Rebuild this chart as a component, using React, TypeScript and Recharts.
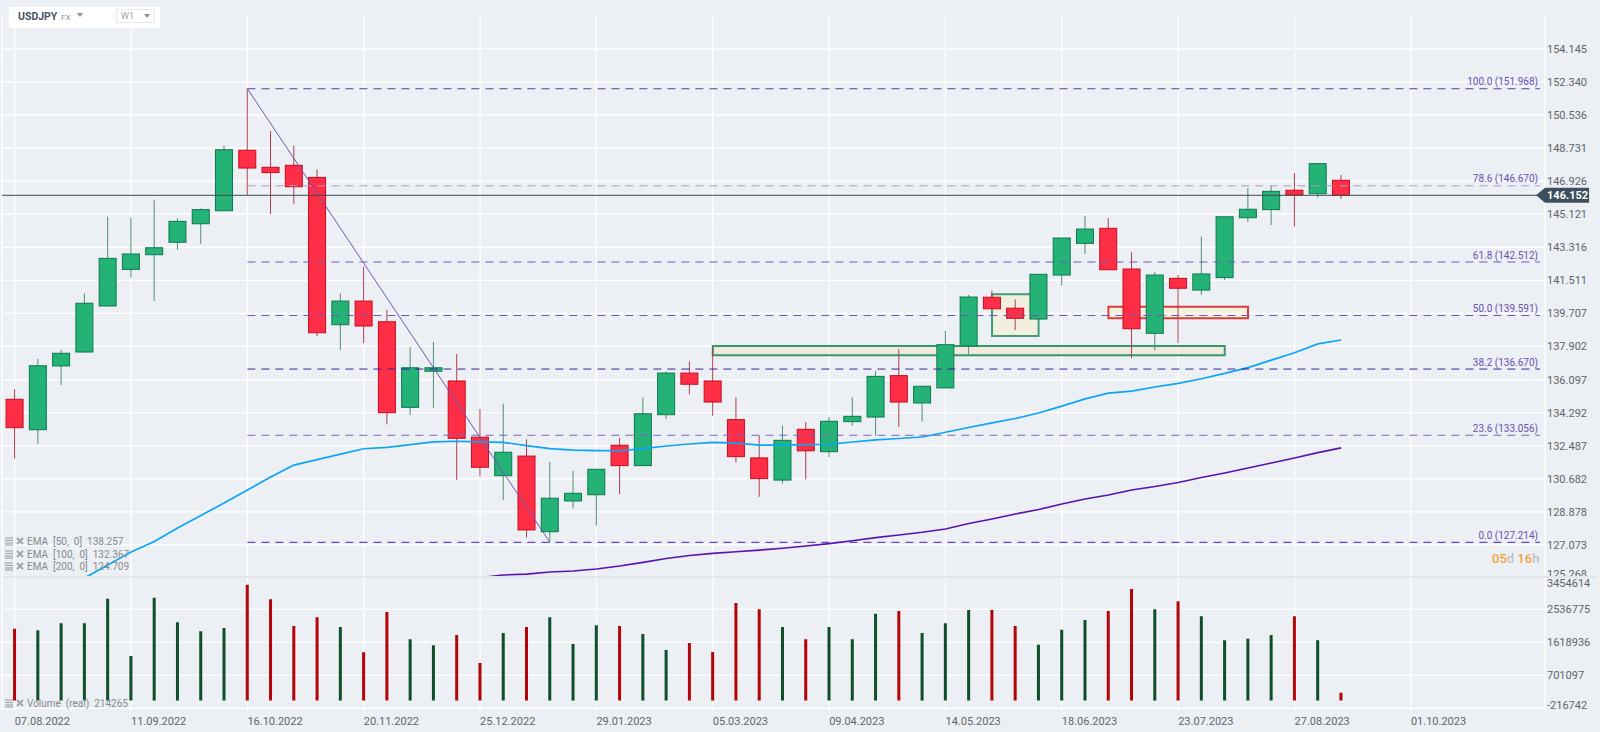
import React from "react";
import {
  Bar,
  BarChart,
  CartesianGrid,
  Cell,
  ComposedChart,
  Line,
  ReferenceArea,
  ReferenceDot,
  ReferenceLine,
  XAxis,
  YAxis,
} from "recharts";

const opens = [
  135.02, 133.36, 136.84, 137.6, 140.11, 142.11, 142.91, 143.59, 144.6, 145.31,
  148.61, 147.68, 147.79, 147.13, 139.09, 140.38, 139.25, 134.58, 136.55, 136.02,
  132.95, 130.85, 131.92, 127.79, 129.47, 129.81, 132.51, 131.4, 134.18, 136.45,
  136.02, 133.91, 131.82, 130.61, 133.38, 132.16, 133.8, 134.05, 136.31, 134.82,
  135.64, 137.93, 140.59, 139.99, 139.4, 141.8, 143.53, 144.35, 142.13, 138.62,
  141.62, 140.98, 141.66, 144.93, 145.37, 146.43, 146.24, 146.97,
];
const closes = [
  133.47, 136.85, 137.53, 140.26, 142.71, 142.95, 143.29, 144.73, 145.37, 148.64,
  147.64, 147.39, 146.62, 138.65, 140.38, 139.02, 134.29, 136.74, 136.74, 132.89,
  131.31, 132.13, 127.89, 129.62, 129.89, 131.2, 131.4, 134.23, 136.45, 135.84,
  134.87, 131.89, 130.69, 132.78, 132.21, 133.82, 134.09, 136.27, 134.87, 135.73,
  138.0, 140.6, 139.96, 139.44, 141.84, 143.82, 144.31, 142.09, 138.87, 141.8,
  141.08, 141.86, 144.98, 145.39, 146.37, 146.17, 147.88, 146.152,
];
const highs = [
  135.58, 137.22, 137.71, 140.8, 144.98, 144.95, 145.9, 144.9, 145.44, 148.86,
  151.968, 149.66, 148.86, 147.57, 140.8, 142.26, 139.89, 137.87, 138.15, 137.49,
  134.49, 134.78, 132.84, 131.6, 131.11, 131.2, 132.91, 135.13, 136.53, 137.09,
  137.87, 135.13, 133.03, 133.58, 133.78, 134.05, 135.13, 136.56, 137.76, 135.73,
  138.75, 140.71, 140.95, 140.48, 141.84, 143.82, 145.04, 144.91, 143.04, 141.97,
  141.8, 143.89, 144.98, 146.55, 146.68, 147.37, 147.88, 147.26,
];
const lows = [
  131.78, 132.58, 135.8, 137.56, 140.11, 141.66, 140.38, 143.18, 143.51, 145.26,
  146.15, 145.12, 145.69, 138.47, 137.71, 138.08, 133.65, 134.16, 134.56, 130.61,
  130.8, 129.52, 127.47, 127.214, 129.07, 128.12, 129.85, 131.4, 133.94, 135.29,
  134.12, 131.58, 129.7, 130.41, 130.65, 131.87, 133.58, 133.03, 133.51, 133.8,
  135.64, 137.49, 139.96, 138.8, 139.4, 141.22, 142.95, 142.09, 137.26, 137.71,
  138.08, 140.71, 141.53, 144.68, 144.53, 144.44, 146.02, 145.97,
];
const volumes = [
  2001000, 1955000, 2149000, 2149000, 2837000, 1240000, 2864000, 2177000, 1927000, 2019000,
  3227000, 2818000, 2075000, 2317000, 2047000, 1342000, 2465000, 1704000, 1537000, 1825000,
  1045000, 1880000, 2047000, 2317000, 1574000, 2094000, 2075000, 1852000, 1407000, 1602000,
  1351000, 2716000, 2539000, 2047000, 1704000, 2047000, 1704000, 2419000, 2493000, 1880000,
  2149000, 2521000, 2521000, 2075000, 1555000, 1973000, 2242000, 2493000, 3106000, 2539000,
  2762000, 2345000, 1676000, 1722000, 1825000, 2345000, 1676000, 214265,
];
const ema50 = [
  null, null, null, 125.27, 125.98, 126.69, 127.26, 127.99, 128.68, 129.36,
  130.07, 130.78, 131.43, 131.73, 132.03, 132.32, 132.4, 132.55, 132.7, 132.73,
  132.7, 132.67, 132.49, 132.33, 132.24, 132.22, 132.21, 132.33, 132.47, 132.58,
  132.67, 132.63, 132.52, 132.52, 132.54, 132.56, 132.69, 132.8, 132.88, 132.96,
  133.22, 133.48, 133.73, 133.97, 134.27, 134.65, 135.04, 135.36, 135.47, 135.69,
  135.89, 136.14, 136.43, 136.75, 137.16, 137.56, 138.04, 138.257,
];
const ema100 = [
  null, null, null, null, null, null, null, null, null, null,
  null, null, null, null, null, null, null, null, null, null,
  125.29, 125.43, 125.48, 125.59, 125.65, 125.76, 125.92, 126.12, 126.33, 126.49,
  126.61, 126.7, 126.79, 126.89, 127.01, 127.14, 127.3, 127.47, 127.61, 127.76,
  127.94, 128.24, 128.49, 128.76, 129.0, 129.31, 129.58, 129.8, 130.07, 130.26,
  130.48, 130.75, 131.0, 131.27, 131.54, 131.82, 132.11, 132.367,
];

const priceTicks = [
  154.145, 152.34, 150.536, 148.731, 146.926, 145.121, 143.316, 141.511, 139.707,
  137.902, 136.097, 134.292, 132.487, 130.682, 128.878, 127.073, 125.268,
];
const volumeTicks = [3454614, 2536775, 1618936, 701097, -216742];
const dateTicks = [0, 5, 10, 15, 20, 25, 30, 35, 40, 45, 50, 55, 60];
const dateLabels = [
  "07.08.2022", "11.09.2022", "16.10.2022", "20.11.2022", "25.12.2022", "29.01.2023", "05.03.2023",
  "09.04.2023", "14.05.2023", "18.06.2023", "23.07.2023", "27.08.2023", "01.10.2023",
];
const fibRatios = ["100.0", "78.6", "61.8", "50.0", "38.2", "23.6", "0.0"];
const fibPrices = [151.968, 146.67, 142.512, 139.591, 136.67, 133.056, 127.214];
const fibColors = ["#5a3fa8", "#a79dcb", "#7358c0", "#6d58b8", "#3c1f9a", "#7a66c0", "#4f20b0"];
const lastPrice = 146.152;

const X_DOMAIN = [-0.5458, 65.763];
const FIB_START = 10;
const FIB_END = 65.55;
const PRICE_DOMAIN = [125.239, 155.938];
const VOLUME_DOMAIN = [-292478, 3454614];
const AXIS_TEXT = "#5d666e";
const FONT = "Roboto, sans-serif";

const table = opens.map((open, i) => ({
  idx: i,
  open,
  close: closes[i],
  high: highs[i],
  low: lows[i],
  range: [lows[i], highs[i]],
  ema50: ema50[i],
  ema100: ema100[i],
  volume: volumes[i],
}));

// body and wick worked out from the bar that spans low..high
const Candle = (props: any) => {
  const { x, y, width, height, payload } = props;
  const { open, close, high, low } = payload;
  const up = close > open;
  const perUnit = height / (high - low);
  const top = y + (high - Math.max(open, close)) * perUnit;
  const bottom = y + (high - Math.min(open, close)) * perUnit;
  const mid = x + width / 2;
  return (
    <g>
      <line x1={mid} x2={mid} y1={y} y2={y + height} stroke={up ? "#4d8f74" : "#ad4152"} strokeWidth={1} />
      <rect
        x={x}
        y={top}
        width={width}
        height={Math.max(bottom - top, 1)}
        fill={up ? "#25b276" : "#ff2e47"}
        stroke={up ? "#0b7a4c" : "#c80a1e"}
        strokeWidth={1}
      />
    </g>
  );
};

const PriceTick = (props: any) => {
  const { y, payload } = props;
  const last = payload.value === priceTicks[priceTicks.length - 1];
  return (
    <text x={1547} y={last ? y - 4 : y} dy={4} fontFamily={FONT} fontSize={11} fill={AXIS_TEXT}>
      {payload.value.toFixed(3)}
    </text>
  );
};

const VolumeTick = (props: any) => {
  const { y, payload } = props;
  let shift = 0;
  if (payload.value === volumeTicks[0]) shift = 6;
  if (payload.value === volumeTicks[volumeTicks.length - 1]) shift = -3;
  return (
    <text x={1547} y={y + shift} dy={4} fontFamily={FONT} fontSize={11} fill={AXIS_TEXT}>
      {payload.value}
    </text>
  );
};

const DateTick = (props: any) => {
  const { x, y, payload } = props;
  return (
    <text x={x} y={y} dy={6} fontFamily={FONT} fontSize={11} fill={AXIS_TEXT}>
      {dateLabels[dateTicks.indexOf(payload.value)]}
    </text>
  );
};

const PriceTag = (props: any) => {
  const { cx, cy } = props;
  const pts = [
    [cx - 4, cy],
    [cx + 5, cy - 7.5],
    [cx + 49, cy - 7.5],
    [cx + 49, cy + 7.5],
    [cx + 5, cy + 7.5],
  ];
  return (
    <g>
      <polygon points={pts.map((p) => p.join(",")).join(" ")} fill="#3d4f5c" />
      <text x={cx + 7} y={cy + 4} fontFamily={FONT} fontSize={11} fontWeight={700} fill="#ffffff">
        {lastPrice.toFixed(3)}
      </text>
    </g>
  );
};

const fibLabel = (i: number) => (props: any) => (
  <text x={props.cx - 2} y={props.cy - 3.5} textAnchor="end" fontFamily={FONT} fontSize={10} fill="#6a4fb3">
    {`${fibRatios[i]} (${fibPrices[i].toFixed(3)})`}
  </text>
);

const StudyIcons = () => (
  <svg width={20} height={10} style={{ position: "absolute", left: 5, top: 1 }}>
    <g stroke="#a3a7ac" strokeWidth={1.2}>
      <line x1={0} x2={8} y1={1} y2={1} />
      <line x1={0} x2={8} y1={3.5} y2={3.5} />
      <line x1={0} x2={8} y1={6} y2={6} />
      <line x1={0} x2={8} y1={8} y2={8} />
      <line x1={12} x2={18} y1={1} y2={7} strokeWidth={2} />
      <line x1={18} x2={12} y1={1} y2={7} strokeWidth={2} />
    </g>
  </svg>
);

const studyRows = [
  { text: "EMA  [50,  0]  138.257", top: 536 },
  { text: "EMA  [100,  0]  132.367", top: 548.5 },
  { text: "EMA  [200,  0]  124.709", top: 561 },
  { text: "Volume  (real)  214265", top: 698 },
];

const App = () => (
  <div
    style={{
      position: "fixed",
      left: 0,
      top: 0,
      width: 1600,
      height: 732,
      overflow: "hidden",
      background: "#ecEff3",
      fontFamily: FONT,
    }}
  >
    <div style={{ position: "absolute", left: 0, top: 0 }}>
      <ComposedChart width={1600} height={580} data={table} margin={{ top: 16, right: 0, bottom: 1.5, left: 2 }}>
        <CartesianGrid stroke="#ffffff" strokeWidth={1.3} horizontalValues={priceTicks.slice(0, -1)} />
        <XAxis type="number" dataKey="idx" domain={X_DOMAIN} ticks={dateTicks} allowDataOverflow hide />
        <YAxis
          orientation="right"
          width={55}
          domain={PRICE_DOMAIN}
          ticks={priceTicks}
          interval={0}
          allowDataOverflow
          axisLine={false}
          tickLine={false}
          tick={<PriceTick />}
        />
        <Bar dataKey="range" barSize={17} shape={<Candle />} isAnimationActive={false} />
        <Line dataKey="ema50" stroke="#0aa6f5" strokeWidth={1.7} dot={false} connectNulls={false} isAnimationActive={false} />
        <Line dataKey="ema100" stroke="#5a12b0" strokeWidth={1.6} dot={false} connectNulls={false} isAnimationActive={false} />
        {fibPrices.map((price, i) => (
          <ReferenceLine
            key={fibRatios[i]}
            segment={[
              { x: FIB_START, y: price },
              { x: FIB_END, y: price },
            ]}
            stroke={fibColors[i]}
            strokeWidth={1}
            strokeDasharray="8 6"
          />
        ))}
        <ReferenceLine
          segment={[
            { x: FIB_START, y: fibPrices[0] },
            { x: 23, y: fibPrices[6] },
          ]}
          stroke="#6f55b5"
          strokeWidth={1}
        />
        <ReferenceLine
          segment={[
            { x: X_DOMAIN[0], y: lastPrice },
            { x: FIB_END, y: lastPrice },
          ]}
          stroke="#3f4a52"
          strokeWidth={1}
        />
        <ReferenceArea x1={30} x2={52} y1={137.42} y2={137.93} fill="#fae1be" fillOpacity={0.45} stroke="#1f8f63" strokeOpacity={0.9} strokeWidth={2} />
        <ReferenceArea x1={42} x2={44} y1={138.47} y2={140.75} fill="#faf0c8" fillOpacity={0.45} stroke="#1f8f63" strokeOpacity={0.85} strokeWidth={2} />
        <ReferenceArea x1={47} x2={53} y1={139.44} y2={140.07} fill="#faf0c8" fillOpacity={0.45} stroke="#d62a2a" strokeOpacity={0.9} strokeWidth={2} />
        {fibPrices.map((price, i) => (
          <ReferenceDot key={fibRatios[i]} x={FIB_END} y={price} r={0} shape={fibLabel(i)} />
        ))}
        <ReferenceDot x={FIB_END} y={lastPrice} r={0} shape={<PriceTag />} />
      </ComposedChart>
    </div>

    <div style={{ position: "absolute", left: 0, top: 576 }}>
      <BarChart width={1600} height={156} data={table} margin={{ top: 0.5, right: 0, bottom: 0, left: 2 }}>
        <CartesianGrid stroke="#ffffff" strokeWidth={1.3} horizontalValues={volumeTicks.slice(1)} />
        <XAxis
          type="number"
          dataKey="idx"
          domain={X_DOMAIN}
          ticks={dateTicks}
          interval={0}
          height={21}
          allowDataOverflow
          axisLine={false}
          tickLine={false}
          tick={<DateTick />}
        />
        <YAxis
          orientation="right"
          width={55}
          domain={VOLUME_DOMAIN}
          ticks={volumeTicks}
          interval={0}
          allowDataOverflow
          axisLine={false}
          tickLine={false}
          tick={<VolumeTick />}
        />
        <Bar dataKey="volume" barSize={3} isAnimationActive={false}>
          {table.map((row) => (
            <Cell key={row.idx} fill={row.close > row.open ? "#0d4f2a" : "#b30505"} />
          ))}
        </Bar>
      </BarChart>
    </div>

    <div style={{ position: "absolute", left: 3, top: 576, width: 1594, height: 1.5, background: "#e3e5e8" }} />

    {studyRows.map((row) => (
      <div
        key={row.text}
        style={{ position: "absolute", left: 0, top: row.top, height: 12, width: 140, color: "#868b90", fontSize: 10, lineHeight: "12px", whiteSpace: "pre" }}
      >
        <StudyIcons />
        <span style={{ position: "absolute", left: 27, top: 0 }}>{row.text}</span>
      </div>
    ))}

    <div style={{ position: "absolute", left: 1492, top: 552, fontSize: 13, fontWeight: 500, color: "#bfc2c6", lineHeight: "14px" }}>
      <span style={{ color: "#f5a33c" }}>05</span>d <span style={{ color: "#f5a33c" }}>16</span>h
    </div>

    <div style={{ position: "absolute", left: 9, top: 7, width: 151, height: 21, background: "#ffffff", borderRadius: 1 }}>
      <span style={{ position: "absolute", left: 9, top: 3, fontSize: 10.5, fontWeight: 700, color: "#4a5560", lineHeight: "14px" }}>USDJPY</span>
      <span style={{ position: "absolute", left: 52, top: 5, fontSize: 8, color: "#8a9096", lineHeight: "11px" }}>FX</span>
      <div style={{ position: "absolute", left: 68, top: 6, borderLeft: "3.5px solid transparent", borderRight: "3.5px solid transparent", borderTop: "4px solid #8a9096" }} />
      <div style={{ position: "absolute", left: 107, top: 2, width: 37, height: 12, border: "1px solid #e6e8ea" }}>
        <span style={{ position: "absolute", left: 4, top: 0, fontSize: 9, color: "#9a9fa5", lineHeight: "12px" }}>W1</span>
        <div style={{ position: "absolute", left: 27, top: 4, borderLeft: "3.5px solid transparent", borderRight: "3.5px solid transparent", borderTop: "4px solid #8a9096" }} />
      </div>
    </div>
  </div>
);

export default App;
